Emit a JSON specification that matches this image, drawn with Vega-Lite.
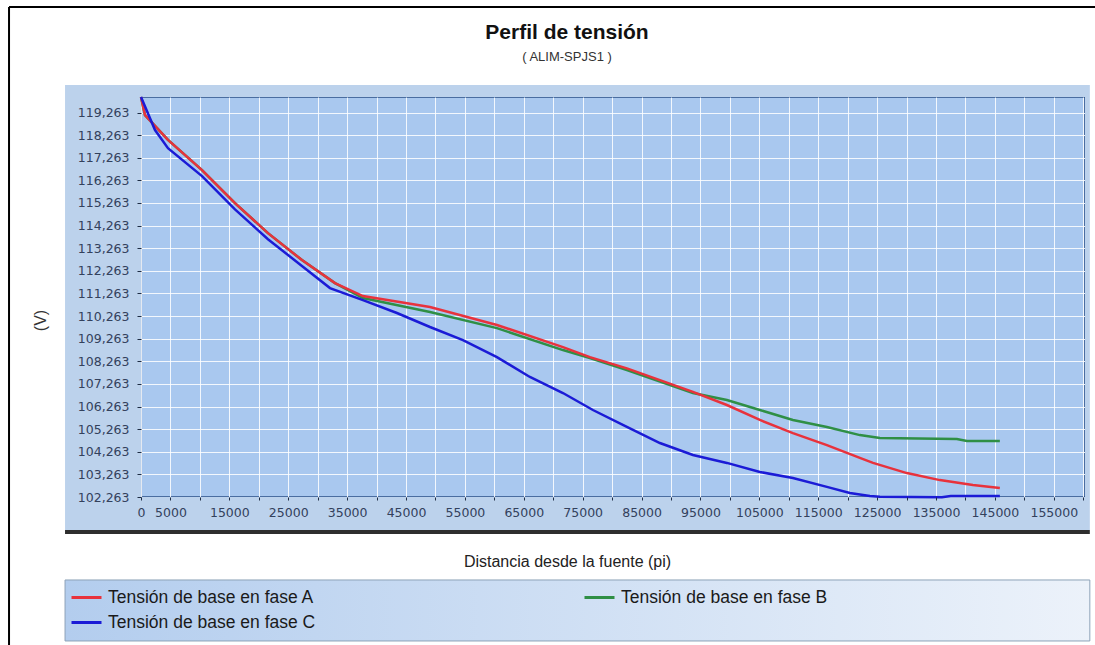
{
  "$schema": "https://vega.github.io/schema/vega-lite/v6.json",
  "width": 944,
  "height": 400,
  "autosize": "none",
  "padding": {"left": 141, "top": 97, "right": 10, "bottom": 148},
  "background": "white",
  "title": {
    "text": "Perfil de tensión",
    "subtitle": "( ALIM-SPJS1 )",
    "anchor": "middle",
    "dx": -46,
    "offset": -58,
    "font": "Liberation Sans",
    "fontSize": 21,
    "fontWeight": "bold",
    "color": "#111111",
    "subtitleFont": "Liberation Sans",
    "subtitleFontSize": 13,
    "subtitleColor": "#333333",
    "subtitlePadding": 8
  },
  "config": {
    "view": {"fill": "#a9c8ef", "stroke": "#2b4f86", "strokeWidth": 1.5}
  },
  "resolve": {"axis": {"x": "independent", "y": "independent"}},
  "layer": [
    {
      "data": {"values": [{}]},
      "mark": {"type": "rect", "fill": "#bcd2ec", "clip": false},
      "encoding": {
        "x": {"datum": -12900, "type": "quantitative",
          "scale": {"domain": [0, 160300], "nice": false, "zero": false},
          "axis": {"orient": "bottom", "grid": true, "gridColor": "#ffffff", "gridOpacity": 0.85, "gridWidth": 1,
            "labels": false, "ticks": false, "domain": false, "title": null, "zindex": 0,
            "values": [0,5000,10000,15000,20000,25000,30000,35000,40000,45000,50000,55000,60000,65000,70000,75000,80000,85000,90000,95000,100000,105000,110000,115000,120000,125000,130000,135000,140000,145000,150000,155000,160000]}},
        "x2": {"datum": 0},
        "y": {"datum": 100.804, "type": "quantitative",
          "scale": {"domain": [102.263, 119.95], "nice": false, "zero": false},
          "axis": {"orient": "left", "grid": true, "gridColor": "#ffffff", "gridOpacity": 0.85, "gridWidth": 1,
            "labels": false, "ticks": false, "domain": false, "title": null, "zindex": 0,
            "values": [102.263,103.263,104.263,105.263,106.263,107.263,108.263,109.263,110.263,111.263,112.263,113.263,114.263,115.263,116.263,117.263,118.263,119.263]}},
        "y2": {"datum": 120.477}
      }
    },
    {
      "data": {"values": [{}]},
      "mark": {"type": "rect", "fill": "#bcd2ec", "clip": false},
      "encoding": {
        "x": {"datum": 0, "type": "quantitative", "axis": null},
        "x2": {"datum": 160300},
        "y": {"datum": 119.95, "type": "quantitative", "axis": null},
        "y2": {"datum": 120.477}
      }
    },
    {
      "data": {"values": [{}]},
      "mark": {"type": "rect", "fill": "#bcd2ec", "clip": false},
      "encoding": {
        "x": {"datum": 160300, "type": "quantitative", "axis": null},
        "x2": {"datum": 161120},
        "y": {"datum": 100.804, "type": "quantitative", "axis": null},
        "y2": {"datum": 120.477}
      }
    },
    {
      "data": {"values": [{}]},
      "mark": {"type": "rect", "fill": "#bcd2ec", "clip": false},
      "encoding": {
        "x": {"datum": 0, "type": "quantitative", "axis": null},
        "x2": {"datum": 160300},
        "y": {"datum": 100.804, "type": "quantitative", "axis": null},
        "y2": {"datum": 102.263}
      }
    },
    {
      "data": {"values": [{}]},
      "mark": {"type": "rect", "fill": "#2e2e2e", "clip": false},
      "encoding": {
        "x": {"datum": -12900, "type": "quantitative", "axis": null},
        "x2": {"datum": 161120},
        "y": {"datum": 100.627, "type": "quantitative", "axis": null},
        "y2": {"datum": 100.804}
      }
    },
    {
      "data": {"values": [{}]},
      "mark": {"type": "rect", "clip": false, "stroke": "#8da2b8", "strokeWidth": 1,
        "fill": {"gradient": "linear", "x1": 0, "y1": 0, "x2": 1, "y2": 0,
          "stops": [{"offset": 0, "color": "#b3cdee"}, {"offset": 1, "color": "#ecf2fa"}]}},
      "encoding": {
        "x": {"datum": -12900, "type": "quantitative", "axis": null},
        "x2": {"datum": 161120},
        "y": {"datum": 95.897, "type": "quantitative", "axis": null},
        "y2": {"datum": 98.594}
      }
    },
    {
      "data": {"values": [{}]},
      "mark": {"type": "rule", "clip": false, "stroke": "#000000", "strokeWidth": 2},
      "encoding": {
        "x": {"datum": -22410, "type": "quantitative", "axis": null},
        "x2": {"datum": 185000},
        "y": {"datum": 123.925, "type": "quantitative", "axis": null}
      }
    },
    {
      "data": {"values": [{}]},
      "mark": {"type": "rule", "clip": false, "stroke": "#000000", "strokeWidth": 2},
      "encoding": {
        "x": {"datum": -22410, "type": "quantitative", "axis": null},
        "y": {"datum": 90.0, "type": "quantitative", "axis": null},
        "y2": {"datum": 123.925}
      }
    },
    {
      "data": {"values": [
        {"distancia": 0, "tension": 119.95, "serie": "Tensión de base en fase B"},
        {"distancia": 680, "tension": 119.15, "serie": "Tensión de base en fase B"},
        {"distancia": 4580, "tension": 118.05, "serie": "Tensión de base en fase B"},
        {"distancia": 10360, "tension": 116.72, "serie": "Tensión de base en fase B"},
        {"distancia": 15960, "tension": 115.26, "serie": "Tensión de base en fase B"},
        {"distancia": 21560, "tension": 113.93, "serie": "Tensión de base en fase B"},
        {"distancia": 27330, "tension": 112.74, "serie": "Tensión de base en fase B"},
        {"distancia": 32940, "tension": 111.72, "serie": "Tensión de base en fase B"},
        {"distancia": 37690, "tension": 111.06, "serie": "Tensión de base en fase B"},
        {"distancia": 49070, "tension": 110.44, "serie": "Tensión de base en fase B"},
        {"distancia": 60440, "tension": 109.73, "serie": "Tensión de base en fase B"},
        {"distancia": 71650, "tension": 108.76, "serie": "Tensión de base en fase B"},
        {"distancia": 76230, "tension": 108.41, "serie": "Tensión de base en fase B"},
        {"distancia": 82510, "tension": 107.88, "serie": "Tensión de base en fase B"},
        {"distancia": 93720, "tension": 106.86, "serie": "Tensión de base en fase B"},
        {"distancia": 99490, "tension": 106.55, "serie": "Tensión de base en fase B"},
        {"distancia": 105090, "tension": 106.11, "serie": "Tensión de base en fase B"},
        {"distancia": 110700, "tension": 105.67, "serie": "Tensión de base en fase B"},
        {"distancia": 116470, "tension": 105.36, "serie": "Tensión de base en fase B"},
        {"distancia": 122070, "tension": 105.0, "serie": "Tensión de base en fase B"},
        {"distancia": 125470, "tension": 104.87, "serie": "Tensión de base en fase B"},
        {"distancia": 138540, "tension": 104.83, "serie": "Tensión de base en fase B"},
        {"distancia": 140240, "tension": 104.74, "serie": "Tensión de base en fase B"},
        {"distancia": 145840, "tension": 104.74, "serie": "Tensión de base en fase B"},
        {"distancia": 0, "tension": 119.95, "serie": "Tensión de base en fase A"},
        {"distancia": 680, "tension": 119.15, "serie": "Tensión de base en fase A"},
        {"distancia": 4580, "tension": 118.05, "serie": "Tensión de base en fase A"},
        {"distancia": 10360, "tension": 116.72, "serie": "Tensión de base en fase A"},
        {"distancia": 15960, "tension": 115.26, "serie": "Tensión de base en fase A"},
        {"distancia": 21560, "tension": 113.93, "serie": "Tensión de base en fase A"},
        {"distancia": 27330, "tension": 112.74, "serie": "Tensión de base en fase A"},
        {"distancia": 32940, "tension": 111.72, "serie": "Tensión de base en fase A"},
        {"distancia": 37690, "tension": 111.15, "serie": "Tensión de base en fase A"},
        {"distancia": 49070, "tension": 110.66, "serie": "Tensión de base en fase A"},
        {"distancia": 60440, "tension": 109.87, "serie": "Tensión de base en fase A"},
        {"distancia": 71650, "tension": 108.89, "serie": "Tensión de base en fase A"},
        {"distancia": 76230, "tension": 108.45, "serie": "Tensión de base en fase A"},
        {"distancia": 82510, "tension": 107.95, "serie": "Tensión de base en fase A"},
        {"distancia": 93720, "tension": 106.91, "serie": "Tensión de base en fase A"},
        {"distancia": 99490, "tension": 106.33, "serie": "Tensión de base en fase A"},
        {"distancia": 105090, "tension": 105.67, "serie": "Tensión de base en fase A"},
        {"distancia": 110700, "tension": 105.09, "serie": "Tensión de base en fase A"},
        {"distancia": 116470, "tension": 104.56, "serie": "Tensión de base en fase A"},
        {"distancia": 122070, "tension": 103.99, "serie": "Tensión de base en fase A"},
        {"distancia": 124300, "tension": 103.77, "serie": "Tensión de base en fase A"},
        {"distancia": 130050, "tension": 103.32, "serie": "Tensión de base en fase A"},
        {"distancia": 135660, "tension": 103.01, "serie": "Tensión de base en fase A"},
        {"distancia": 141260, "tension": 102.79, "serie": "Tensión de base en fase A"},
        {"distancia": 145840, "tension": 102.66, "serie": "Tensión de base en fase A"},
        {"distancia": 0, "tension": 119.95, "serie": "Tensión de base en fase C"},
        {"distancia": 2380, "tension": 118.49, "serie": "Tensión de base en fase C"},
        {"distancia": 4580, "tension": 117.69, "serie": "Tensión de base en fase C"},
        {"distancia": 10360, "tension": 116.45, "serie": "Tensión de base en fase C"},
        {"distancia": 15960, "tension": 114.98, "serie": "Tensión de base en fase C"},
        {"distancia": 21560, "tension": 113.66, "serie": "Tensión de base en fase C"},
        {"distancia": 27330, "tension": 112.48, "serie": "Tensión de base en fase C"},
        {"distancia": 32090, "tension": 111.5, "serie": "Tensión de base en fase C"},
        {"distancia": 37690, "tension": 110.97, "serie": "Tensión de base en fase C"},
        {"distancia": 43460, "tension": 110.4, "serie": "Tensión de base en fase C"},
        {"distancia": 49070, "tension": 109.78, "serie": "Tensión de base en fase C"},
        {"distancia": 54670, "tension": 109.2, "serie": "Tensión de base en fase C"},
        {"distancia": 60440, "tension": 108.45, "serie": "Tensión de base en fase C"},
        {"distancia": 66040, "tension": 107.57, "serie": "Tensión de base en fase C"},
        {"distancia": 71650, "tension": 106.86, "serie": "Tensión de base en fase C"},
        {"distancia": 76740, "tension": 106.11, "serie": "Tensión de base en fase C"},
        {"distancia": 82510, "tension": 105.36, "serie": "Tensión de base en fase C"},
        {"distancia": 88110, "tension": 104.65, "serie": "Tensión de base en fase C"},
        {"distancia": 93720, "tension": 104.12, "serie": "Tensión de base en fase C"},
        {"distancia": 99490, "tension": 103.77, "serie": "Tensión de base en fase C"},
        {"distancia": 105090, "tension": 103.37, "serie": "Tensión de base en fase C"},
        {"distancia": 110700, "tension": 103.1, "serie": "Tensión de base en fase C"},
        {"distancia": 116470, "tension": 102.71, "serie": "Tensión de base en fase C"},
        {"distancia": 120370, "tension": 102.44, "serie": "Tensión de base en fase C"},
        {"distancia": 123770, "tension": 102.31, "serie": "Tensión de base en fase C"},
        {"distancia": 125470, "tension": 102.27, "serie": "Tensión de base en fase C"},
        {"distancia": 136000, "tension": 102.25, "serie": "Tensión de base en fase C"},
        {"distancia": 137500, "tension": 102.31, "serie": "Tensión de base en fase C"},
        {"distancia": 145840, "tension": 102.31, "serie": "Tensión de base en fase C"}
      ]},
      "mark": {"type": "line", "strokeWidth": 2.5},
      "encoding": {
        "x": {"field": "distancia", "type": "quantitative",
          "scale": {"domain": [0, 160300], "nice": false, "zero": false},
          "axis": {"orient": "bottom", "grid": false, "zindex": 1,
            "values": [0,5000,10000,15000,20000,25000,30000,35000,40000,45000,50000,55000,60000,65000,70000,75000,80000,85000,90000,95000,100000,105000,110000,115000,120000,125000,130000,135000,140000,145000,150000,155000,160000],
            "labelExpr": "(datum.value == 0 || datum.value % 10000 == 5000) ? format(datum.value, 'd') : ''",
            "labelOverlap": false, "labelFlush": false,
            "labelFont": "DejaVu Sans", "labelFontSize": 12.5, "labelColor": "#33415c", "labelPadding": 6,
            "tickSize": 3, "tickColor": "#1e2d44", "domain": false,
            "title": "Distancia desde la fuente (pi)", "titleFont": "Liberation Sans", "titleFontSize": 16,
            "titleFontWeight": "normal", "titleColor": "#222222", "titleX": 426, "titleY": 64,
            "titleBaseline": "middle", "titleAlign": "center"}},
        "y": {"field": "tension", "type": "quantitative",
          "scale": {"domain": [102.263, 119.95], "nice": false, "zero": false},
          "axis": {"orient": "left", "grid": false, "zindex": 1,
            "values": [102.263,103.263,104.263,105.263,106.263,107.263,108.263,109.263,110.263,111.263,112.263,113.263,114.263,115.263,116.263,117.263,118.263,119.263],
            "labelExpr": "replace(format(datum.value, '.3f'), '.', ',')",
            "labelOverlap": false, "labelFont": "DejaVu Sans", "labelFontSize": 12.5, "labelColor": "#33415c",
            "labelPadding": 8, "tickSize": 4, "tickColor": "#1e2d44", "domain": false,
            "title": "(V)", "titleFont": "Liberation Sans", "titleFontSize": 16, "titleFontWeight": "normal",
            "titleColor": "#333333", "titleX": -101, "titleY": 223, "titleAngle": -90,
            "titleBaseline": "middle", "titleAlign": "center"}},
        "color": {"field": "serie", "type": "nominal",
          "scale": {"domain": ["Tensión de base en fase A", "Tensión de base en fase B", "Tensión de base en fase C"],
            "range": ["#e8323c", "#2f8f45", "#1b1bd6"]},
          "legend": {"orient": "none", "direction": "horizontal", "legendX": -71, "legendY": 484, "columns": 2,
            "columnPadding": 262, "rowPadding": 0, "title": null, "symbolType": "stroke", "symbolSize": 900,
            "symbolStrokeWidth": 3, "labelFont": "Liberation Sans", "labelFontSize": 17.5, "labelColor": "#1a1a1a",
            "labelOffset": 5, "labelLimit": 400, "zindex": 1}}
      }
    }
  ]
}
